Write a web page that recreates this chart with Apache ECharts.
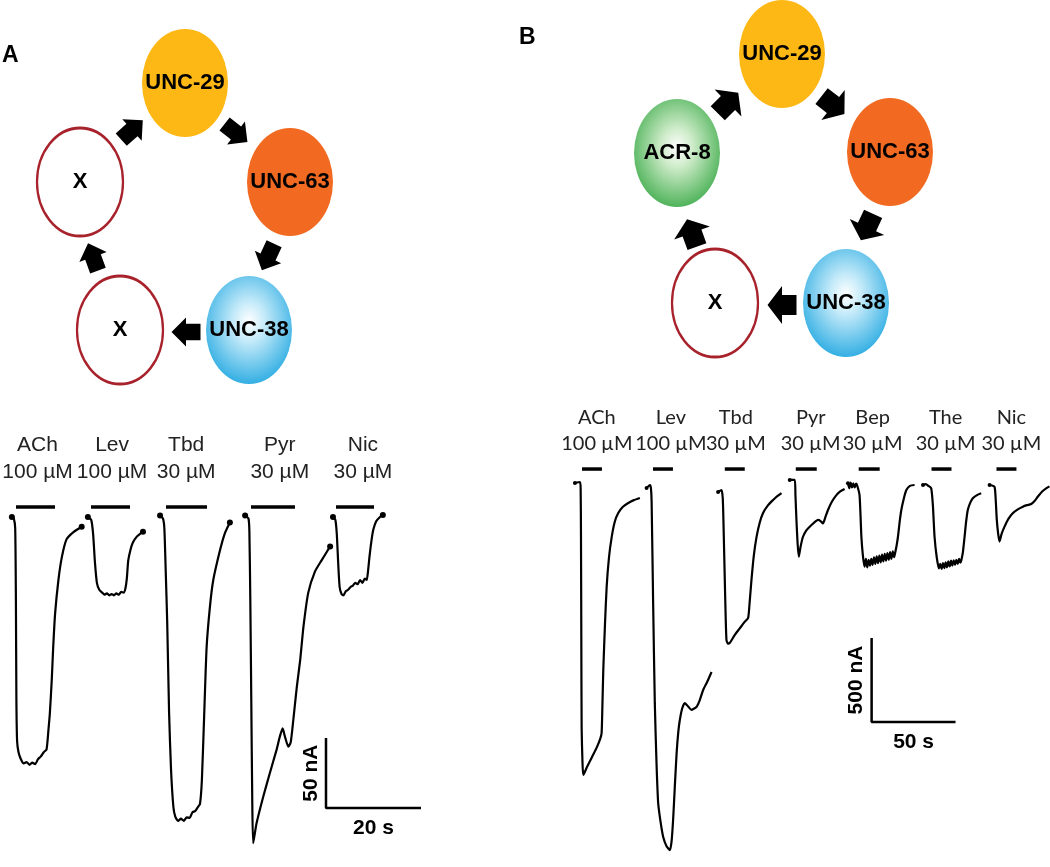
<!DOCTYPE html>
<html><head><meta charset="utf-8">
<script src="https://cdn.jsdelivr.net/npm/echarts/dist/echarts.min.js"></script>
<style>html,body{margin:0;padding:0;background:#fff}#c{width:1050px;height:867px}</style>
</head><body><div id="c"></div>
<script>
// ---------- Diagram (layout units = canvas px) ----------
const nodeNamesA = ['X', 'UNC-29', 'UNC-63', 'UNC-38', 'X'];
const nodePosA = [[80, 182], [185, 83], [290, 182], [249, 330], [120, 330]];
const nodeNamesB = ['UNC-29', 'UNC-63', 'UNC-38', 'X', 'ACR-8'];
const nodePosB = [[782, 54], [890, 152], [846, 303], [715, 303], [677, 153]];
// [x, y, direction in degrees]
const arrowsA = [[132, 130, 42], [236, 133, -38], [268, 257, -115], [186, 332, 180], [93, 257, 110]];
const arrowsB = [[728, 103, 45], [833, 105, -38], [867, 227, -115], [782, 305, 180], [692, 233, 110]];

// ---------- Panel A traces: [time s, current nA] ----------
const A_ACh = [[2.5,0],[2.9,-1],[3.2,-8],[3.35,-60],[3.45,-130],[3.6,-160],[3.9,-168],[4.4,-173],[5.0,-176],[5.6,-175],[6.2,-177],[6.8,-175.5],[7.4,-176.5],[8.0,-173],[8.6,-171],[9.2,-168],[9.8,-166],[10.2,-152],[10.5,-140],[10.9,-116],[11.2,-93],[11.6,-69],[12.3,-45],[13.0,-29],[14.0,-16],[15.4,-11],[17.2,-7]];
const A_Lev = [[18.5,0],[19.2,-2],[19.6,-12],[20.0,-33],[20.4,-47],[20.9,-52],[21.5,-54],[22.0,-55.5],[22.5,-54.5],[23.0,-56],[23.5,-55],[24.0,-56],[24.5,-54.5],[25.0,-55.5],[25.5,-53.5],[26.0,-54],[26.4,-51],[26.7,-44],[27.0,-31],[27.5,-23],[28.0,-18],[28.8,-14],[29.5,-12],[30.1,-10.5]];
const A_Tbd = [[33.7,1],[34.3,-1],[34.6,-8],[34.9,-40],[35.2,-75],[35.6,-140],[36.0,-180],[36.5,-207],[36.9,-214],[37.5,-217],[38.1,-215.5],[38.7,-217],[39.3,-214.5],[39.9,-215],[40.5,-211],[41.1,-210],[41.7,-207],[42.1,-205],[42.5,-188],[43.0,-140],[43.5,-93],[44.2,-64],[44.9,-45],[46.3,-24],[47.3,-12],[48.4,-4]];
const A_Pyr = [[51.6,1],[52.3,-1],[52.5,-10],[52.7,-60],[52.9,-130],[53.1,-200],[53.3,-233],[54.0,-219],[55.4,-200],[56.8,-183],[58.25,-166],[58.9,-157],[59.5,-151],[60.0,-157],[60.7,-164],[61.2,-161],[61.75,-145],[62.5,-121],[63.2,-102],[63.9,-78],[64.9,-54],[66.3,-39],[67.7,-31],[69.5,-21]];
const A_Nic = [[70.1,0],[70.6,-2],[70.9,-12],[71.2,-33],[71.5,-50],[71.9,-55],[72.3,-56],[72.8,-53],[73.3,-52],[73.8,-50],[74.3,-49],[74.8,-47],[75.3,-48],[75.8,-45],[76.3,-47],[76.8,-44],[77.2,-45],[77.5,-38],[77.8,-28],[78.2,-17],[78.6,-9],[79.2,-3],[80.0,0],[80.6,1.5]];
const drugsA = ['ACh', 'Lev', 'Tbd', 'Pyr', 'Nic'];
const concA = ['100 µM', '100 µM', '30 µM', '30 µM', '30 µM'];
const barsA = [[3.37, 11.58], [19.16, 27.37], [34.95, 43.58], [52.84, 62.1], [70.74, 78.74]];
const barLevelA = 7.1;
const labelTimeA = [7.9, 23.6, 39.2, 58.9, 76.4];
const labelLevelA = 41.8;
const scaleA = {t: 68.63, i: -207.9, dt: 20, di: 50, tl: '20 s', il: '50 nA'};

// ---------- Panel B traces: [time s, current nA] ----------
const B_ACh = [[8.9,12],[11.9,18],[12.3,-20],[12.5,-300],[12.7,-900],[12.9,-1450],[13.4,-1650],[13.9,-1726],[16,-1680],[19,-1620],[22,-1560],[24,-1510],[24.8,-1476],[25.3,-1300],[25.8,-1100],[26.8,-830],[27.8,-607],[29.2,-430],[30.8,-310],[32.6,-220],[34.7,-167],[37.5,-130],[40.7,-107],[44,-90],[47.6,-77]];
const B_Lev = [[51.6,-18],[53.6,0],[54.2,-20],[54.6,-100],[55.5,-700],[56.5,-1300],[57.5,-1650],[58.5,-1893],[60,-2010],[61.5,-2095],[63.5,-2150],[65.5,-2173],[66.5,-2120],[67.4,-1994],[68.4,-1800],[69.5,-1595],[70.5,-1470],[71.4,-1399],[72.8,-1330],[74.4,-1298],[76.5,-1320],[78.4,-1339],[80,-1330],[81.4,-1321],[83.3,-1280],[85.3,-1220],[87.8,-1170],[90.3,-1113]];
const B_Tbd = [[94.2,-42],[96.2,-30],[97.0,-80],[97.6,-300],[98.4,-650],[99.2,-923],[100.2,-945],[101.2,-940],[104,-895],[107,-855],[110,-815],[112.1,-792],[113,-700],[114.1,-565],[115.5,-420],[117.1,-310],[119,-225],[121,-167],[124,-120],[127,-89],[129.5,-66],[132,-48]];
const B_Pyr = [[136.9,30],[139.9,30],[140.3,-60],[140.9,-208],[141.6,-350],[142.3,-427],[143.3,-370],[144.8,-308],[146.8,-270],[148.8,-248],[151.3,-225],[153.8,-208],[155.3,-215],[156.7,-228],[158.2,-190],[159.7,-149],[162,-100],[164.7,-60],[167,-38],[169.6,-24]];
const B_Bep = [[171.6,10],[172.4,-20],[173.2,15],[174,-15],[174.8,10],[175.6,-15],[176.4,8],[177,0],[178.5,-60],[179.6,-308],[180.5,-420],[181.5,-486],[182.3,-440],[183.1,-490],[183.9,-445],[184.7,-480],[185.5,-440],[186.3,-475],[187.1,-430],[187.9,-470],[188.7,-425],[189.5,-465],[190.3,-420],[191.1,-460],[191.9,-415],[192.7,-455],[193.5,-410],[194.3,-450],[195.1,-405],[195.9,-445],[196.7,-400],[197.5,-440],[198.3,-395],[199.1,-430],[199.8,-400],[200.6,-360],[201.4,-308],[202.4,-220],[203.4,-149],[204.9,-80],[206.4,-30],[208.5,-5],[211.3,0]];
const B_The = [[216.3,0],[218,5],[219.5,-5],[221.2,-20],[222.2,-120],[223.2,-308],[224.5,-430],[225.8,-496],[226.6,-470],[227.4,-500],[228.2,-465],[229,-495],[229.8,-460],[230.6,-490],[231.4,-455],[232.2,-485],[233,-450],[233.8,-480],[234.6,-448],[235.4,-475],[236.2,-445],[237,-470],[237.8,-440],[238.6,-462],[239.1,-451],[240.1,-400],[241.1,-308],[242,-220],[243,-149],[244.5,-105],[246,-79],[248.5,-60],[251,-49]];
const B_Nic = [[256,0],[258.9,-10],[259.6,-80],[260.3,-208],[261.1,-290],[261.9,-337],[263.2,-290],[264.9,-248],[267.3,-200],[269.8,-168],[272.8,-145],[275.8,-129],[278.3,-120],[280.8,-113],[282.8,-95],[284.7,-70],[287.2,-40],[289.7,-20],[291.7,-8]];
const drugsB = ['ACh', 'Lev', 'Tbd', 'Pyr', 'Bep', 'The', 'Nic'];
const concB = ['100 µM', '100 µM', '30 µM', '30 µM', '30 µM', '30 µM', '30 µM'];
const barsB = [[13.1, 25], [55.4, 67.3], [98.2, 110.1], [140.5, 153], [178, 190.5], [221.4, 233.3], [260.1, 272]];
const barLevelB = 95;
const labelTimeB = [22.0, 66.1, 104.8, 149.4, 186.3, 229.8, 269.0];
const labelLevelB = 327;
const scaleB = {t: 185.7, i: -1410.7, dt: 50, di: 500, tl: '50 s', il: '500 nA'};

// ---------- Build chart ----------
const ARIAL = 'Liberation Sans, Arial, Helvetica, sans-serif';
const nodeStyle = {
  'UNC-29': {color: '#fdb815', opacity: 1},
  'UNC-63': {color: '#f26a22', opacity: 1},
  'UNC-38': {opacity: 1, color: {type: 'radial', x: 0.5, y: 0.42, r: 0.62, colorStops: [{offset: 0, color: '#ffffff'}, {offset: 0.3, color: '#c4eaf9'}, {offset: 1, color: '#25a9e1'}]}},
  'ACR-8': {opacity: 1, color: {type: 'radial', x: 0.5, y: 0.45, r: 0.62, colorStops: [{offset: 0, color: '#ffffff'}, {offset: 0.3, color: '#cdebc8'}, {offset: 1, color: '#38a946'}]}},
  'X': {color: '#ffffff', borderColor: '#a8222c', borderWidth: 2.5, opacity: 1}
};
const arrowPathA = 'path://M0,6 L14,6 L14,0 L28,14 L14,28 L14,22 L0,22 Z';
const arrowPathB = 'path://M0,9 L14,9 L14,0 L28,19 L14,38 L14,29 L0,29 Z';

const series = [];
function nodeSeries(names, pos) {
  series.push({
    type: 'scatter', xAxisIndex: 0, yAxisIndex: 0, silent: true, clip: false,
    symbol: 'circle', symbolSize: [86, 108],
    data: names.map((n, i) => ({value: pos[i], name: n, itemStyle: nodeStyle[n]})),
    label: {show: true, position: 'inside', formatter: p => p.name, color: '#000',
      fontFamily: ARIAL, fontWeight: 'bold', fontSize: 22}
  });
}
function arrowSeries(arr, path, size) {
  series.push({
    type: 'scatter', xAxisIndex: 0, yAxisIndex: 0, silent: true, clip: false,
    symbol: path, symbolSize: size,
    symbolRotate: (v, p) => arr[p.dataIndex][2],
    itemStyle: {color: '#000', opacity: 1},
    data: arr.map(a => [a[0], a[1]])
  });
}
nodeSeries(nodeNamesA, nodePosA);
nodeSeries(nodeNamesB, nodePosB);
arrowSeries(arrowsA, arrowPathA, [29, 29]);
arrowSeries(arrowsB, arrowPathB, [29, 38]);

function panel(axis, traces, bars, barLevel, drugs, conc, labelT, labelI, sc, font, fsize, lh, dot) {
  traces.forEach(d => series.push({
    type: 'line', xAxisIndex: axis, yAxisIndex: axis, data: d, showSymbol: false,
    smooth: 0.2, silent: true, clip: false, lineStyle: {color: '#000', width: 2.2}
  }));
  series.push({
    type: 'scatter', xAxisIndex: axis, yAxisIndex: axis, silent: true, clip: false,
    symbolSize: dot, itemStyle: {color: '#000', opacity: 1},
    data: traces.map(d => d[0]).concat(axis === 1 ? traces.map(d => d[d.length - 1]) : [])
  });
  bars.forEach(b => series.push({
    type: 'line', xAxisIndex: axis, yAxisIndex: axis, showSymbol: false, silent: true, clip: false,
    data: [[b[0], barLevel], [b[1], barLevel]], lineStyle: {color: '#000', width: 3.5}
  }));
  series.push({
    type: 'scatter', xAxisIndex: axis, yAxisIndex: axis, silent: true, clip: false,
    symbolSize: 1, itemStyle: {color: 'rgba(0,0,0,0)', opacity: 1},
    data: labelT.map(t => [t, labelI]),
    label: {show: true, position: 'inside', formatter: p => drugs[p.dataIndex] + '\n' + conc[p.dataIndex],
      fontFamily: font, fontSize: fsize, lineHeight: lh, color: '#222', align: 'center'}
  });
  series.push({
    type: 'line', xAxisIndex: axis, yAxisIndex: axis, showSymbol: false, silent: true, clip: false,
    data: [[sc.t, sc.i + sc.di], [sc.t, sc.i], [sc.t + sc.dt, sc.i]],
    lineStyle: {color: '#000', width: 2.5}
  });
  const pxT = axis === 1 ? 4.75 : 1.68, pxI = axis === 1 ? 1.4 : 0.168;
  series.push({
    type: 'scatter', xAxisIndex: axis, yAxisIndex: axis, silent: true, clip: false,
    symbolSize: 1, itemStyle: {color: 'rgba(0,0,0,0)', opacity: 1},
    data: [
      {value: [sc.t + sc.dt / 2, sc.i - 20 / pxI], label: {formatter: sc.tl}},
      {value: [sc.t - 15 / pxT, sc.i + sc.di / 2], label: {formatter: sc.il, rotate: 90}}
    ],
    label: {show: true, position: 'inside', fontFamily: ARIAL, fontWeight: 'bold', fontSize: 21, color: '#000'}
  });
}
panel(1, [A_ACh, A_Lev, A_Tbd, A_Pyr, A_Nic], barsA, barLevelA, drugsA, concA, labelTimeA, labelLevelA, scaleA, ARIAL, 21, 27, 6);
panel(2, [B_ACh, B_Lev, B_Tbd, B_Pyr, B_Bep, B_The, B_Nic], barsB, barLevelB, drugsB, concB, labelTimeB, labelLevelB, scaleB, 'Lato, Open Sans, sans-serif', 20, 26, 4);

const hidden = {show: false, splitLine: {show: false}};
const option = {
  animation: false,
  backgroundColor: '#fff',
  grid: [
    {left: 0, top: 0, width: 1050, height: 867},
    {left: 0, top: 440, width: 437, height: 420},
    {left: 560, top: 401, width: 490.56, height: 453.6}
  ],
  xAxis: [
    Object.assign({type: 'value', gridIndex: 0, min: 0, max: 1050}, hidden),
    Object.assign({type: 'value', gridIndex: 1, min: 0, max: 92}, hidden),
    Object.assign({type: 'value', gridIndex: 2, min: 0, max: 292}, hidden)
  ],
  yAxis: [
    Object.assign({type: 'value', gridIndex: 0, min: 0, max: 867, inverse: true}, hidden),
    Object.assign({type: 'value', gridIndex: 1, min: -245, max: 55}, hidden),
    Object.assign({type: 'value', gridIndex: 2, min: -2200, max: 500}, hidden)
  ],
  graphic: [
    {type: 'text', left: 2, top: 44, style: {text: 'A', font: 'bold 23px Liberation Sans, Arial, sans-serif', fill: '#000'}},
    {type: 'text', left: 519, top: 26, style: {text: 'B', font: 'bold 23px Liberation Sans, Arial, sans-serif', fill: '#000'}}
  ],
  series: series
};
const chart = echarts.init(document.getElementById('c'), null, {renderer: 'canvas'});
chart.setOption(option);
</script></body></html>
